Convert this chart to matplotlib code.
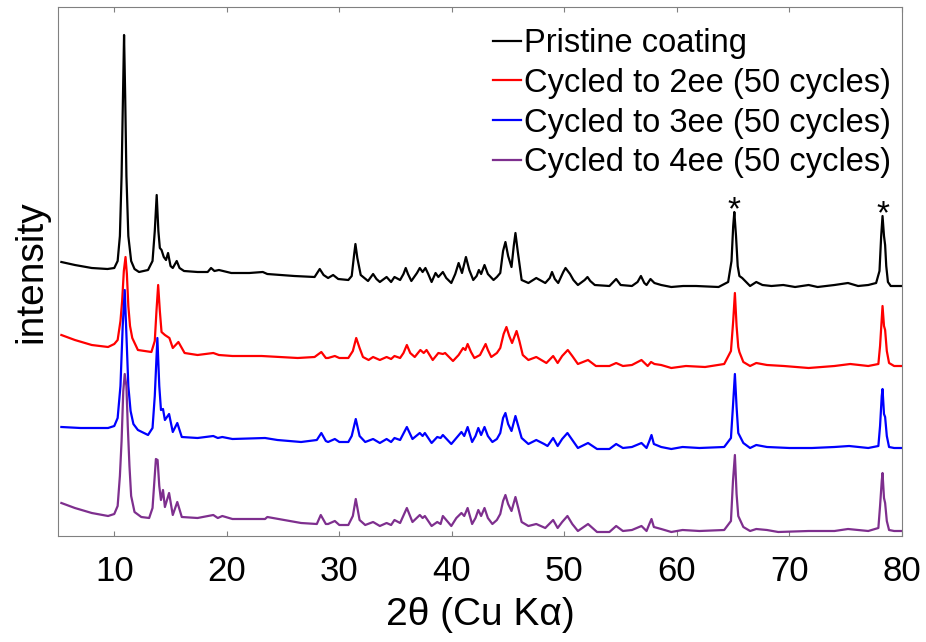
import matplotlib
matplotlib.use("Agg")
import matplotlib.pyplot as plt

plt.rcParams['font.family'] = ['Liberation Sans', 'DejaVu Sans']

# ---- data (2theta, offset intensity in arbitrary units) ----
labels = ["Pristine coating", "Cycled to 2ee (50 cycles)",
          "Cycled to 3ee (50 cycles)", "Cycled to 4ee (50 cycles)"]
colors = ["#000000", "#FF0000", "#0000FF", "#7E2F8E"]

x_pristine = [5.3, 6.5, 8.0, 9.4, 10.0, 10.3, 10.5, 10.65, 10.77, 10.87, 10.97, 11.08, 11.25, 11.5, 11.8, 12.2, 13.0, 13.4, 13.6, 13.77, 13.92, 14.05, 14.2, 14.4, 14.6, 14.78, 15.0, 15.2, 15.55, 15.8, 16.2, 17.4, 18.3, 18.6, 18.9, 19.3, 20.4, 22.0, 23.2, 23.6, 26.0, 27.8, 28.26, 28.6, 29.0, 29.45, 29.9, 30.8, 31.1, 31.3, 31.43, 31.6, 31.9, 32.55, 33.0, 33.3, 33.6, 34.2, 34.6, 34.9, 35.4, 35.7, 35.9, 36.1, 36.4, 36.9, 37.15, 37.4, 37.65, 37.9, 38.2, 38.55, 38.8, 39.2, 39.5, 39.95, 40.3, 40.6, 40.9, 41.25, 41.55, 41.9, 42.2, 42.4, 42.6, 42.9, 43.2, 43.7, 44.0, 44.3, 44.55, 44.76, 45.0, 45.3, 45.5, 45.65, 45.85, 46.2, 46.8, 47.5, 48.3, 48.7, 48.9, 49.15, 49.45, 49.9, 50.1, 50.5, 50.8, 51.2, 51.8, 52.05, 52.3, 52.7, 54.0, 54.6, 55.0, 56.0, 56.5, 56.8, 57.1, 57.3, 57.65, 58.0, 58.6, 59.5, 60.55, 61.7, 63.7, 64.55, 64.85, 65.0, 65.1, 65.25, 65.4, 65.55, 65.8, 66.5, 67.05, 67.6, 68.4, 69.45, 70.5, 71.7, 72.5, 74.0, 75.2, 76.1, 77.0, 77.7, 78.0, 78.15, 78.27, 78.4, 78.5, 78.6, 78.75, 79.0, 80.0]
y_pristine = [274, 271, 268, 267, 268, 275, 300, 360, 440, 501, 440, 360, 300, 275, 267, 264, 266, 275, 305, 341, 305, 288, 286, 279, 276, 283, 270, 268, 275, 268, 265, 264, 264, 268, 265, 266, 263, 263, 264, 262, 260, 259, 267, 261, 258, 261, 257, 256, 260, 280, 292, 278, 261, 255, 262, 257, 254, 259, 254, 259, 256, 262, 268, 262, 255, 263, 268, 264, 268, 262, 254, 263, 259, 264, 258, 253, 262, 273, 263, 279, 266, 256, 260, 266, 262, 271, 262, 256, 259, 263, 285, 294, 280, 269, 290, 303, 285, 256, 253, 258, 253, 258, 264, 257, 253, 264, 268, 262, 256, 251, 256, 259, 255, 251, 250, 257, 251, 250, 254, 260, 253, 251, 257, 253, 251, 249, 250, 250, 249, 254, 275, 310, 324, 300, 270, 260, 258, 250, 254, 251, 250, 251, 249, 251, 249, 251, 253, 250, 251, 253, 265, 300, 320, 300, 291, 270, 254, 250, 250]

x_2ee = [5.3, 6.5, 8.0, 9.45, 10.0, 10.3, 10.55, 10.7, 10.85, 11.0, 11.12, 11.25, 11.4, 11.6, 12.1, 12.7, 13.3, 13.6, 13.75, 13.9, 14.05, 14.2, 14.5, 14.9, 15.2, 15.7, 16.25, 17.4, 18.8, 19.3, 20.5, 23.1, 26.3, 27.8, 28.4, 28.8, 29.0, 29.6, 30.0, 30.8, 31.2, 31.5, 31.8, 32.1, 32.6, 33.0, 33.6, 34.2, 34.6, 34.9, 35.4, 35.7, 36.0, 36.3, 36.7, 37.2, 37.5, 37.75, 38.3, 38.8, 39.2, 39.4, 40.1, 40.6, 41.0, 41.2, 41.4, 41.7, 42.0, 42.5, 43.0, 43.2, 43.5, 44.0, 44.3, 44.6, 44.85, 45.1, 45.35, 45.75, 46.0, 46.3, 46.8, 47.5, 48.4, 49.0, 49.4, 49.8, 50.3, 50.7, 51.2, 52.1, 52.8, 54.0, 54.6, 55.2, 56.0, 56.85, 57.4, 57.7, 58.0, 58.6, 59.5, 60.8, 62.5, 64.2, 64.8, 65.0, 65.15, 65.3, 65.45, 65.55, 65.9, 66.5, 67.05, 68.0, 69.5, 71.7, 74.0, 75.4, 77.0, 77.9, 78.05, 78.27, 78.4, 78.5, 78.65, 78.85, 79.3, 80.0]
y_2ee = [201, 196, 191, 189, 192, 196, 215, 235, 265, 279, 262, 230, 210, 198, 186, 185, 184, 195, 225, 251, 225, 204, 201, 198, 188, 194, 183, 181, 183, 181, 180, 180, 178, 179, 184, 178, 178, 180, 178, 178, 185, 198, 188, 179, 176, 179, 176, 179, 177, 180, 178, 183, 191, 183, 179, 186, 183, 186, 176, 183, 182, 183, 175, 181, 188, 186, 192, 184, 178, 181, 192, 186, 179, 183, 188, 202, 209, 200, 193, 205, 195, 181, 176, 179, 173, 180, 173, 180, 186, 180, 172, 176, 170, 170, 173, 170, 171, 176, 170, 174, 172, 171, 168, 170, 169, 172, 185, 215, 243, 210, 189, 184, 174, 170, 173, 171, 170, 168, 170, 172, 170, 172, 190, 230, 210, 206, 185, 173, 170, 170]

x_3ee = [5.3, 7.0, 9.45, 10.0, 10.3, 10.55, 10.75, 10.93, 11.08, 11.25, 11.45, 11.7, 12.1, 13.0, 13.4, 13.6, 13.83, 14.0, 14.15, 14.33, 14.5, 14.87, 15.2, 15.6, 16.0, 17.4, 18.8, 19.2, 19.6, 20.5, 23.4, 24.5, 26.6, 28.0, 28.4, 28.8, 29.0, 29.6, 30.0, 30.8, 31.1, 31.46, 31.8, 32.3, 33.0, 33.6, 34.2, 34.6, 34.9, 35.4, 36.0, 36.5, 37.15, 37.4, 37.6, 38.2, 38.7, 39.0, 39.2, 39.95, 40.4, 40.85, 41.1, 41.4, 41.8, 42.1, 42.35, 42.6, 42.9, 43.2, 43.6, 44.0, 44.3, 44.55, 44.76, 45.0, 45.3, 45.65, 45.9, 46.2, 46.8, 47.5, 48.2, 48.5, 49.0, 49.4, 49.8, 50.27, 50.7, 51.2, 52.1, 52.9, 54.0, 54.6, 55.2, 56.0, 56.85, 57.3, 57.55, 57.74, 57.95, 58.6, 59.5, 60.5, 62.0, 64.2, 64.8, 64.98, 65.15, 65.3, 65.45, 65.9, 66.5, 67.05, 68.0, 70.0, 72.0, 74.0, 75.3, 77.0, 77.9, 78.05, 78.2, 78.27, 78.4, 78.5, 78.65, 78.85, 79.3, 80.0]
y_3ee = [109, 108, 108, 110, 118, 150, 210, 246, 200, 150, 125, 112, 106, 101, 108, 140, 198, 150, 126, 127, 116, 122, 104, 113, 99, 98, 100, 98, 99, 97, 98, 96, 94, 96, 103, 95, 94, 97, 94, 94, 100, 117, 100, 94, 97, 93, 97, 94, 98, 96, 109, 97, 103, 100, 103, 93, 99, 98, 101, 92, 98, 104, 100, 109, 94, 100, 108, 101, 109, 100, 94, 97, 103, 118, 123, 112, 105, 120, 110, 98, 92, 96, 92, 90, 98, 90, 97, 103, 96, 88, 93, 87, 87, 92, 88, 89, 93, 88, 95, 101, 92, 89, 87, 89, 88, 89, 98, 130, 162, 129, 103, 93, 88, 91, 89, 88, 88, 89, 90, 88, 90, 110, 140, 147, 122, 119, 100, 89, 88, 88]

x_4ee = [5.3, 6.5, 8.0, 9.45, 10.0, 10.3, 10.5, 10.65, 10.8, 10.93, 11.08, 11.2, 11.35, 11.5, 11.8, 12.4, 13.1, 13.4, 13.6, 13.7, 13.85, 14.0, 14.15, 14.33, 14.5, 14.87, 15.2, 15.6, 16.0, 17.4, 18.8, 19.2, 19.6, 20.5, 23.4, 23.6, 26.6, 28.0, 28.35, 28.8, 29.0, 29.6, 30.0, 30.8, 31.2, 31.46, 31.8, 32.3, 33.0, 33.6, 34.2, 34.6, 34.9, 35.4, 36.0, 36.5, 37.15, 37.4, 37.6, 38.2, 38.7, 39.0, 39.2, 39.95, 40.4, 40.85, 41.1, 41.4, 41.8, 42.1, 42.35, 42.6, 42.9, 43.2, 43.6, 44.0, 44.3, 44.55, 44.76, 45.0, 45.3, 45.65, 45.9, 46.2, 46.8, 47.5, 48.3, 49.0, 49.4, 49.8, 50.27, 50.7, 51.2, 52.1, 52.9, 54.0, 54.6, 55.2, 56.0, 56.85, 57.3, 57.55, 57.74, 57.95, 58.6, 59.5, 60.5, 62.0, 64.2, 64.8, 64.98, 65.15, 65.3, 65.45, 65.9, 66.5, 67.05, 68.0, 69.0, 71.7, 74.0, 75.2, 77.0, 77.9, 78.05, 78.2, 78.27, 78.4, 78.5, 78.65, 78.85, 79.3, 80.0]
y_4ee = [33, 28, 23, 20, 22, 30, 60, 95, 145, 162, 150, 110, 70, 40, 24, 19, 18, 28, 60, 77, 76, 50, 36, 46, 29, 43, 21, 34, 19, 18, 21, 18, 20, 17, 17, 19, 13, 12, 21, 12, 12, 15, 11, 11, 20, 37, 16, 11, 14, 10, 13, 11, 16, 13, 28, 14, 21, 18, 20, 10, 14, 12, 20, 10, 18, 23, 20, 28, 12, 18, 26, 20, 28, 18, 12, 16, 22, 35, 41, 32, 25, 39, 28, 14, 10, 12, 8, 16, 8, 14, 20, 12, 5, 12, 4, 4, 10, 5, 6, 10, 5, 12, 17, 9, 7, 4, 6, 5, 6, 15, 55, 81, 42, 20, 9, 5, 7, 6, 4, 5, 5, 7, 5, 8, 30, 55, 63, 38, 33, 15, 6, 5, 5]

star_x = [65.1, 78.27]
star_y = [325, 321]

xticks = [10, 20, 30, 40, 50, 60, 70, 80]

# ---- figure ----
fig = plt.figure(figsize=(9.26, 6.42), dpi=100)
ax = fig.add_axes([58/926, 1-536/642, (902-58)/926, (536-7)/642])

series = [(x_pristine, y_pristine), (x_2ee, y_2ee), (x_3ee, y_3ee), (x_4ee, y_4ee)]
for (xs, ys), c, lab in zip(series, colors, labels):
    ax.plot(xs, ys, color=c, lw=1.6, label=lab)

for sx, sy in zip(star_x, star_y):
    ax.text(sx, sy, "*", ha="center", va="center", fontsize=24, color="black")

ax.set_xlim(5, 80)
ax.set_ylim(0, 529)
ax.set_xticks(xticks)
ax.set_xticklabels([str(t) for t in xticks])
ax.set_yticks([])
ax.tick_params(axis="x", direction="in", top=True, length=3.6, width=0.8,
               color="#808080", labelsize=25, pad=14)
for s in ax.spines.values():
    s.set_color("#808080")
    s.set_linewidth(0.8)

ax.set_xlabel("2θ (Cu Kα)", fontsize=28, labelpad=6)
ax.set_ylabel("intensity", fontsize=28, labelpad=6)

leg = ax.legend(loc="upper left", bbox_to_anchor=((493-58)/844, (536-28)/529),
                frameon=False, fontsize=23.5, handlelength=0.85,
                handletextpad=0.1, labelspacing=0.27, borderpad=0,
                borderaxespad=0)
for line in leg.get_lines():
    line.set_linewidth(1.6)

fig.savefig("out.png", dpi=100)
